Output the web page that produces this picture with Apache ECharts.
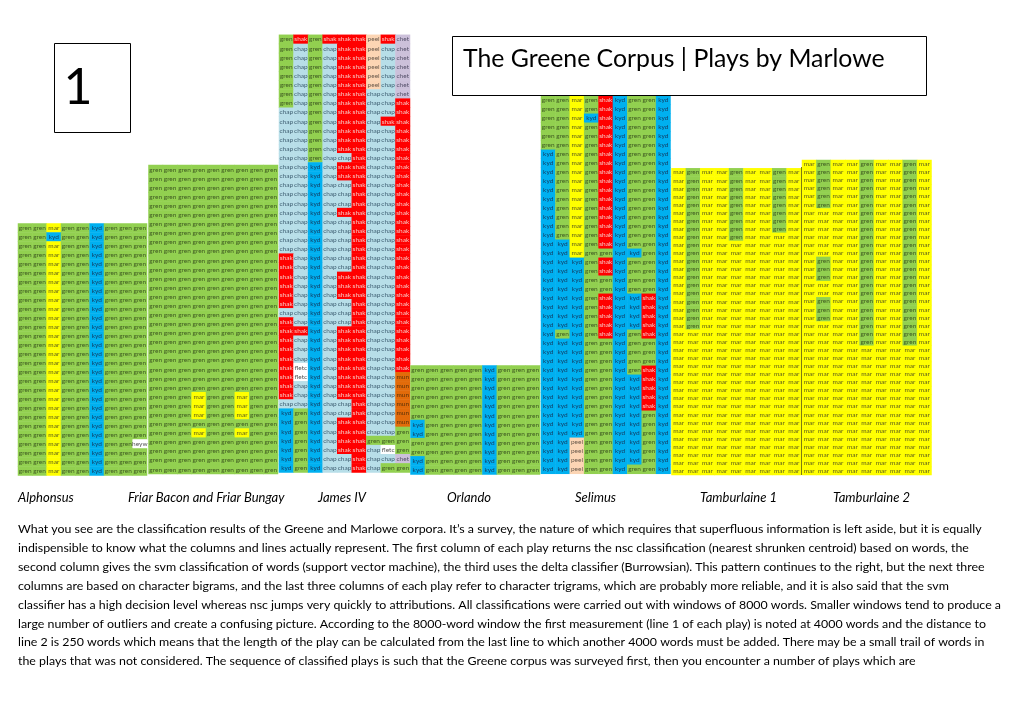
<!DOCTYPE html>
<html>
<head>
<meta charset="utf-8">
<style>html,body{margin:0;padding:0;background:#fff}#c{width:1020px;height:721px}</style>
<script src="https://cdn.jsdelivr.net/npm/echarts@6/dist/echarts.min.js"></script>
</head>
<body>
<div id="c"></div>
<script>
const playNames = ['Alphonsus','Friar Bacon and Friar Bungay','James IV','Orlando','Selimus','Tamburlaine 1','Tamburlaine 2'];
const columnNames = ['nsc words','svm words','delta words','nsc bigrams','svm bigrams','delta bigrams','nsc trigrams','svm trigrams','delta trigrams'];
const authorCodes = ['g','s','k','c','m','p','e','u','f','h'];
const authorWords = ['gren','shak','kyd','chap','mar','peel','chet','mun','fletc','heyw'];
const authorColors = ['#92D050','#FF0000','#00B0F0','#B7DEE8','#FFFF00','#FCD5B4','#CCC0DA','#E26B0A','#FFFFFF','#FFFFFF'];
const authorTextColors = ['#3f5a22','#f6c9c4','#123f66','#3f5f72','#5c5c1c','#6a5a4c','#55506a','#5c3208','#555555','#555555'];

const alphonsusRows = [
'ggmggkggg','ggkggkggg','ggmggkggg','ggmggkggg','ggmggkggg','ggmggkggg','ggmggkggg',
'ggmggkggg','ggmggkggg','ggmggkggg','ggmggkggg','ggmggkggg','ggmggkggg','ggmggkggg',
'ggmggkggg','ggmggkggg','ggmggkggg','ggmggkggg','ggmggkggg','ggmggkggg','ggmggkggg',
'ggmggkggg','ggmggkggg','ggmggkggg','ggmggkggh','ggmggkggg','ggmggkggg','ggmggkggg'];
const friarRows = [
'ggggggggg','ggggggggg','ggggggggg','ggggggggg','ggggggggg','ggggggggg','ggggggggg','ggggggggg',
'ggggggggg','ggggggggg','ggggggggg','ggggggggg','ggggggggg','ggggggggg','ggggggggg','ggggggggg',
'ggggggggg','ggggggggg','ggggggggg','ggggggggg','ggggggggg','ggggggggg','ggggggggg','ggggggggg',
'ggggggggg','gggmggmgg','gggmggmgg','gggmggmgg','ggggggggg','gggmggmgg','ggggggggg','ggggggggg',
'ggggggggg','ggggggggg'];
const jamesRows = [
'gsgssspse','gcgcsspce','gcgcsspce','gcgcsspce','gcgcsspce','gcgcsspce','gcgcsscce','gcgcssccs',
'ccgcssccs','ccgcsscss','ccgcssccs','ccgcssccs','ccgcssccs','ccgccsccs','cckcssccs','cckcssccs',
'cckccsccs','cckccsccs','cckccsccs','cckcssccs','cckccsccs','cckccsccs','cckccsccs','cckccsccs',
'sckccsccs','sckccsccs','sckcssccs','sckcssccs','sckcssccs','sckccsccs','cckccsccs','sckccsccs',
'sskcssccs','sckcssccs','sckcssccs','sckcssccs','sfkcssccs','sfkcssccu','sckcssccu','sckcssccu',
'cckccsccu','kgkccsccu','kgkcssccu','kgkcssccg','kgkcssggg','kgkcsscfg','kgkccscce','kgkccscgg'];
const orlandoRows = [
'gggggkggg','gggggkggg','gggggkggg','gggggkggg','gggggkggg','gggggkggg',
'kggggkggg','kggggkggg','gggggkggg','gggggkggg','kggggkggg','kggggkggg'];
const selimusRows = [
'ggmgskggk','ggmgskggk','ggmkskggk','ggmgskggk','ggmgskggk','ggmgskggk','kgmgskggk',
'kgmgskggk','kgmgskggk','kgmgskggk','kgmgskggk','kgmgskggk','kgmgskggk','kgmgskggk',
'kgmgskggk','kgmgskggk','kkmgskggk','kkmggkkgk','kkkgskggk','kkkgskggk','kkkggkggk',
'kkkggkggk','kkkgskksk','kkkgskksk','kkkgskksk','kkkgskksk','kgkgskgsk','kkkggkggk',
'kkkggkggk','kkkggkggk','kkkggkgsk','kkkggkksk','kkkggkksk','kkkggkksk','kkkggkksk',
'kkkggkkgk','kkkggkkgk','kkkggkkgk','kkpggkkgk','kkpggkkgk','kkpggkkgk','kkpggkggk'];
const tamburlaineOneRows = [
'mgmmgmmgm','mgmmgmmgm','mgmmgmmgm','mgmmgmmgm','mgmmgmmgm','mgmmgmmgm','mgmmgmmgm','mgmmgmmgm',
'mgmmgmmmm','mgmmmmmmm','mgmmmmmmm','mgmmmmmmm','mgmmmmmmm','mgmmmmmmm','mgmmmmmmm','mgmmmmmmm',
'mgmmmmmmm','mgmmmmmmm','mgmmmmmmm','mgmmmmmmm','mmmmmmmmm','mmmmmmmmm','mmmmmmmmm','mmmmmmmmm',
'mmmmmmmmm','mmmmmmmmm','mmmmmmmmm','mmmmmmmmm','mmmmmmmmm','mmmmmmmmm','mmmmmmmmm','mmmmmmmmm',
'mmmmmmmmm','mmmmmmmmm','mmmmmmmmm','mmmmmmmmm','mmmmmmmmm','mmmmmmmmm'];
const tamburlaineTwoRows = [
'mgmmgmmgm','mgmmgmmgm','mgmmgmmgm','mgmmgmmgm','mgmmgmmgm','mgmmgmmgm','mmmmgmmgm','mmmmgmmgm',
'mmmmgmmgm','mmmmgmmgm','mmmmgmmgm','mmmmgmmgm','mgmmgmmgm','mgmmgmmgm','mgmmgmmgm','mmmmgmmgm',
'mmmmgmmgm','mgmmgmmgm','mgmmgmmgm','mgmmgmmgm','mmmmgmmgm','mmmmgmmgm','mmmmgmmgm','mmmmmmmmm',
'mmmmmmmmm','mmmmmmmmm','mmmmmmmmm','mmmmmmmmm','mmmmmmmmm','mmmmmmmmm','mmmmmmmmm','mmmmmmmmm',
'mmmmmmmmm','mmmmmmmmm','mmmmmmmmm','mmmmmmmmm','mmmmmmmmm','mmmmmmmmm','mmmmmmmmm'];

const titleText = 'The Greene Corpus | Plays by Marlowe';
const pageNumber = '1';
const paragraphLines = [
'What you see are the classification results of the Greene and Marlowe corpora. It’s a survey, the nature of which requires that superfluous information is left aside, but it is equally',
'indispensible to know what the columns and lines actually represent. The first column of each play returns the nsc classification (nearest shrunken centroid) based on words, the',
'second column gives the svm classification of words (support vector machine), the third uses the delta classifier (Burrowsian). This pattern continues to the right, but the next three',
'columns are based on character bigrams, and the last three columns of each play refer to character trigrams, which are probably more reliable, and it is also said that the svm',
'classifier has a high decision level whereas nsc jumps very quickly to attributions. All classifications were carried out with windows of 8000 words. Smaller windows tend to produce a',
'large number of outliers and create a confusing picture. According to the 8000-word window the first measurement (line 1 of each play) is noted at 4000 words and the distance to',
'line 2 is 250 words which means that the length of the play can be calculated from the last line to which another 4000 words must be added. There may be a small trail of words in',
'the plays that was not considered. The sequence of classified plays is such that the Greene corpus was surveyed first, then you encounter a number of plays which are'
];

const playRows = [alphonsusRows, friarRows, jamesRows, orlandoRows, selimusRows, tamburlaineOneRows, tamburlaineTwoRows];
// panel boxes [left, top, right, bottom] and label x
const panels = [
  [18, 223.5, 147, 475.5],
  [148.5, 165, 278, 474],
  [279, 34.8, 410, 472.5],
  [410.5, 365.5, 540, 474.5],
  [541, 95.8, 670.5, 473.8],
  [671.5, 168.3, 801, 475],
  [802, 160, 931.5, 475]
];
const labelX = [18, 128, 318, 447, 575, 700, 833];
const font = 'Lato, Carlito, sans-serif';

const grids = [], xAxes = [], yAxes = [], series = [];
playRows.forEach((rows, i) => {
  const p = panels[i];
  grids.push({left:p[0], top:p[1], width:p[2]-p[0], height:p[3]-p[1], containLabel:false});
  xAxes.push({type:'category', gridIndex:i, data:columnNames, show:false});
  yAxes.push({type:'category', gridIndex:i, inverse:true, data:rows.map((_, r) => String(r+1)), show:false});
  const data = [];
  rows.forEach((row, r) => {
    row.split('').forEach((code, c) => {
      const a = authorCodes.indexOf(code);
      data.push({value:[c, r, a], label:{color:authorTextColors[a]}});
    });
  });
  series.push({
    type:'heatmap', name:playNames[i], xAxisIndex:i, yAxisIndex:i, data,
    progressive:0, animation:false,
    itemStyle:{borderWidth:0},
    label:{show:true, fontFamily:font, fontSize:6.5,
      formatter: d => authorWords[d.value[2]]},
    emphasis:{disabled:true}
  });
});

const graphics = [];
graphics.push({type:'rect', shape:{x:54.5,y:43.5,width:76,height:89}, style:{fill:'#fff',stroke:'#000',lineWidth:1}, z:10});
graphics.push({type:'text', x:78, y:88, style:{text:pageNumber, font:'50px '+font, fill:'#000', textAlign:'center', textVerticalAlign:'middle'}, z:11});
graphics.push({type:'rect', shape:{x:452.5,y:36.5,width:474,height:59}, style:{fill:'#fff',stroke:'#000',lineWidth:1}, z:10});
graphics.push({type:'text', x:463, y:59, style:{text:titleText, font:'24.8px '+font, fill:'#000', textAlign:'left', textVerticalAlign:'middle'}, z:11});
graphics.push({type:'line', shape:{x1:801.5,y1:167,x2:801.5,y2:475}, style:{stroke:'#7d7d10',lineWidth:1}, z:12});
playNames.forEach((n, i) => graphics.push({type:'text', x:labelX[i], y:498, style:{text:n, font:'italic 13px '+font, fill:'#000', textAlign:'left', textVerticalAlign:'middle'}, z:11}));
paragraphLines.forEach((t, i) => graphics.push({type:'text', x:18, y:529+i*18.9, style:{text:t, font:'12.38px '+font, fill:'#000', textAlign:'left', textVerticalAlign:'middle'}, z:11}));

const chart = echarts.init(document.getElementById('c'), null, {renderer:'canvas'});
chart.setOption({
  animation:false,
  backgroundColor:'#fff',
  tooltip:{show:false},
  grid:grids, xAxis:xAxes, yAxis:yAxes,
  visualMap:{type:'piecewise', show:false, dimension:2, seriesIndex:series.map((_, i) => i),
    pieces:authorColors.map((color, i) => ({value:i, color, label:authorWords[i]}))},
  series,
  graphic:graphics
});
</script>
</body>
</html>
